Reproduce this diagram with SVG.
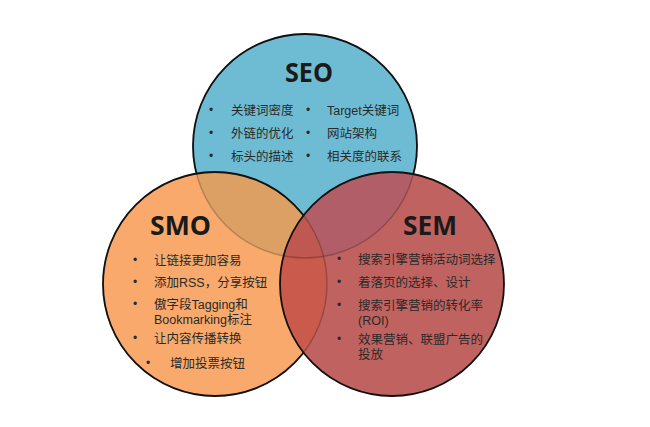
<svg xmlns="http://www.w3.org/2000/svg" width="650" height="427" viewBox="0 0 650 427">
<defs>
<style>
.title{font-family:"Open Sans","Liberation Sans",sans-serif;font-weight:700;font-size:27px;fill:#1a1a1a}
.t{font-family:"Liberation Sans","Noto Sans CJK SC",sans-serif;font-size:12.5px;fill:#2a2a2a}
.b{font-family:"Liberation Sans",sans-serif;font-size:12px;fill:#2a2a2a}
.edge{fill:none;stroke:#111;stroke-width:1.8}
.faint{fill:none;stroke:#000;stroke-opacity:0.22;stroke-width:1.5}
</style>
<clipPath id="cSEO"><circle cx="305" cy="146" r="112"/></clipPath>
<clipPath id="cSMO"><circle cx="215" cy="284" r="112"/></clipPath>
<clipPath id="cSEM"><circle cx="392" cy="284" r="112"/></clipPath>
<mask id="mOutSmoSem" maskUnits="userSpaceOnUse" x="0" y="0" width="650" height="427">
<rect width="650" height="427" fill="#fff"/>
<circle cx="215" cy="284" r="112" fill="#000"/>
<circle cx="392" cy="284" r="112" fill="#000"/>
</mask>
<mask id="mOutSem" maskUnits="userSpaceOnUse" x="0" y="0" width="650" height="427">
<rect width="650" height="427" fill="#fff"/>
<circle cx="392" cy="284" r="112" fill="#000"/>
</mask>
</defs>
<rect width="650" height="427" fill="#fff"/>

<g id="fills">
<circle cx="305" cy="146" r="112" fill="#6ebcd3"/>
<circle cx="215" cy="284" r="112" fill="#f9a96b"/>
<circle cx="392" cy="284" r="112" fill="#c0625f"/>
<g clip-path="url(#cSEO)">
<circle cx="215" cy="284" r="112" fill="#dca064"/>
<circle cx="392" cy="284" r="112" fill="#b25e68"/>
</g>
<g clip-path="url(#cSMO)">
<circle cx="392" cy="284" r="112" fill="#c95a4c"/>
<g clip-path="url(#cSEO)"><circle cx="392" cy="284" r="112" fill="#bf5850"/></g>
</g>
</g>

<g id="outlines">
<circle class="faint" cx="305" cy="146" r="112"/>
<circle class="faint" cx="215" cy="284" r="112"/>
<circle class="edge" cx="305" cy="146" r="112" mask="url(#mOutSmoSem)"/>
<circle class="edge" cx="215" cy="284" r="112" mask="url(#mOutSem)"/>
<circle class="edge" cx="392" cy="284" r="112"/>
</g>

<g id="node-seo">
<text class="title" x="285" y="82" textLength="48" lengthAdjust="spacingAndGlyphs">SEO</text>
<text class="b" x="209" y="114">•</text>
<text class="t" x="231" y="114.5">关键词密度</text>
<text class="b" x="209" y="137">•</text>
<text class="t" x="231" y="137.5">外链的优化</text>
<text class="b" x="209" y="160">•</text>
<text class="t" x="231" y="160.5">标头的描述</text>
<text class="b" x="306" y="114">•</text>
<text class="t" x="327" y="114.5">Target关键词</text>
<text class="b" x="306" y="137">•</text>
<text class="t" x="327" y="137.5">网站架构</text>
<text class="b" x="306" y="160">•</text>
<text class="t" x="327" y="160.5">相关度的联系</text>
</g>

<g id="node-smo">
<text class="title" x="150" y="235" textLength="61" lengthAdjust="spacingAndGlyphs">SMO</text>
<text class="b" x="133" y="264">•</text>
<text class="t" x="154" y="264.5">让链接更加容易</text>
<text class="b" x="133" y="286">•</text>
<text class="t" x="154" y="286.5">添加RSS，分享按钮</text>
<text class="b" x="133" y="308">•</text>
<text class="t" x="154" y="308.5">傲字段Tagging和<tspan x="154" dy="15">Bookmarking标注</tspan></text>
<text class="b" x="133" y="342">•</text>
<text class="t" x="154" y="342.5">让内容传播转换</text>
<text class="b" x="146" y="367">•</text>
<text class="t" x="170" y="367.5">增加投票按钮</text>
</g>

<g id="node-sem">
<text class="title" x="403" y="235" textLength="54" lengthAdjust="spacingAndGlyphs">SEM</text>
<text class="b" x="337" y="263">•</text>
<text class="t" x="358" y="263.5">搜索引擎营销活动词选择</text>
<text class="b" x="337" y="286">•</text>
<text class="t" x="358" y="286.5">着落页的选择、设计</text>
<text class="b" x="337" y="309">•</text>
<text class="t" x="358" y="309.5">搜索引擎营销的转化率<tspan x="358" dy="15">(ROI)</tspan></text>
<text class="b" x="337" y="343">•</text>
<text class="t" x="358" y="343.5">效果营销、联盟广告的<tspan x="358" dy="15">投放</tspan></text>
</g>
</svg>
